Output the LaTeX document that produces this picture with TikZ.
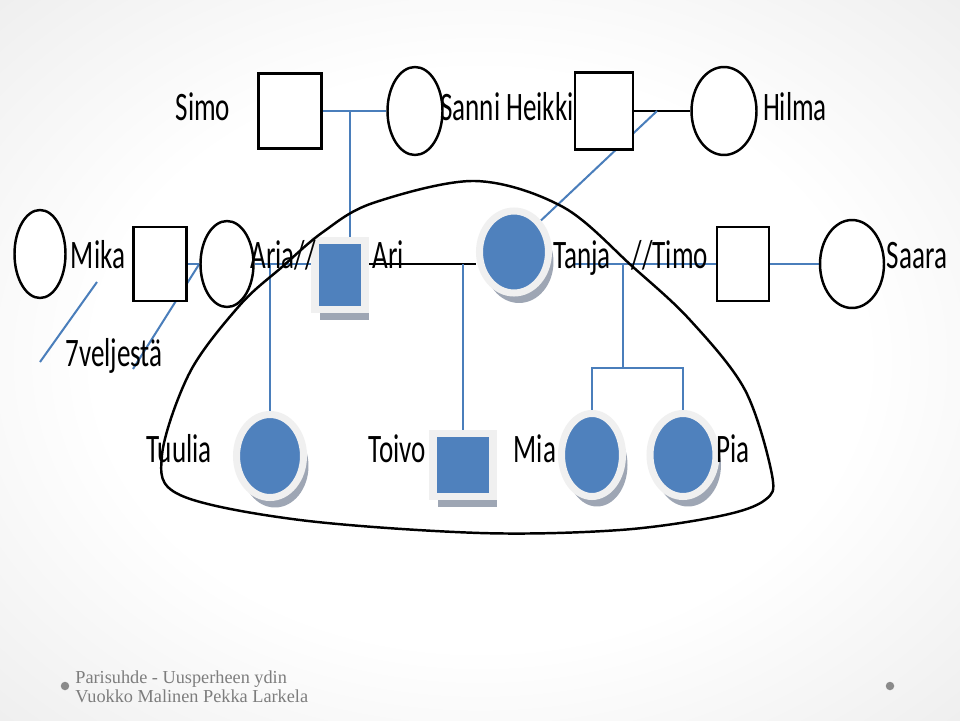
\documentclass[tikz,border=0pt]{standalone}
\usepackage{fontspec}
\setmainfont{Carlito}
\newfontfamily\namefont[FakeStretch=0.67]{Carlito}
\newfontfamily\footfont{Liberation Serif}
\usetikzlibrary{shapes.geometric,shadows,backgrounds}

\definecolor{pblue}{RGB}{79,129,189}
\definecolor{lblue}{RGB}{74,126,187}
\definecolor{rim}{RGB}{240,240,240}
\definecolor{shadowc}{RGB}{158,166,180}
\definecolor{footc}{RGB}{125,125,125}
\pgfdeclareradialshading{vignette}{\pgfpoint{0bp}{0bp}}{color(0bp)=(white); color(20bp)=(white); color(42bp)=(black!9); color(58bp)=(black!18); color(72bp)=(black!25)}

\begin{document}
\begin{tikzpicture}[
    x=0.02cm, y=-0.02cm,
    male/.style={rectangle, draw, line width=1.4pt, fill=white, inner sep=0pt, minimum width=1.1cm, minimum height=1.5cm},
    female/.style={ellipse, draw, line width=1.4pt, fill=white, inner sep=0pt, minimum width=1.1cm, minimum height=1.76cm},
    malefill/.style={rectangle, draw=rim, line width=4.2pt, fill=pblue, inner sep=0pt,
        drop shadow={fill=shadowc, opacity=1, shadow xshift=0.09cm, shadow yshift=-0.22cm}},
    femalefill/.style={ellipse, draw=rim, line width=4pt, fill=pblue, inner sep=0pt, minimum width=1.34cm, minimum height=1.66cm,
        drop shadow={fill=shadowc, opacity=1, shadow xshift=0.1cm, shadow yshift=-0.2cm}},
    pname/.style={anchor=base, inner sep=0pt, font=\namefont\fontsize{23}{26}\selectfont},
    foot/.style={anchor=base west, inner sep=0pt, text=footc, font=\footfont\fontsize{10.4}{12}\selectfont},
    dot/.style={circle, fill=footc!90, inner sep=0pt, minimum size=0.17cm},
    bline/.style={draw=lblue, line width=1.15pt},
    kline/.style={draw=black, line width=1.4pt},
    kloop/.style={draw=black, line width=1.4pt},
]

% Background
\begin{scope}[on background layer]
\shade[shading=vignette] (0,0) rectangle (960,720);
\end{scope}

% Grandparents
\node[male, minimum width=1.26cm] (simo) at (290,111) {};
\node[female] (sanni) at (415,111) {};
\node[male, minimum width=1.16cm, minimum height=1.54cm] (heikki) at (604,111) {};
\node[female, minimum width=1.3cm] (hilma) at (724,111) {};

% Parents
\node[female, minimum width=1.02cm] (mikac) at (40,254) {};
\node[male, minimum width=1.06cm, minimum height=1.48cm] (mikasq) at (160,264) {};
\node[female, minimum width=1.06cm, minimum height=1.72cm] (aria) at (227,264) {};
\node[malefill, minimum width=1.0cm, minimum height=1.38cm] (ari) at (340,275) {};
\node[femalefill, minimum width=1.38cm, minimum height=1.64cm] (tanja) at (514,252) {};
\node[male, minimum width=1.04cm, minimum height=1.48cm] (timo) at (743,264) {};
\node[female, minimum width=1.28cm] (saara) at (852,264) {};

% Children
\node[femalefill] (tuulia) at (270,456) {};
\node[malefill, minimum width=1.2cm, minimum height=1.26cm] (toivo) at (463,465) {};
\node[femalefill, minimum width=1.22cm] (mia) at (592,455) {};
\node[femalefill, minimum width=1.32cm] (pia) at (683,455) {};

% Names
\node[pname] (simol) at (203,120) {Simo};
\node[pname] (sannil) at (507,120) {Sanni Heikki};
\node[pname] (hilmal) at (795,120) {Hilma};
\node[pname] (mikal) at (98,268) {Mika};
\node[pname] (arial) at (283,268) {Aria//};
\node[pname] (aril) at (388,268) {Ari};
\node[pname] (tanjal) at (582,268) {Tanja};
\node[pname] (timol) at (670,268) {//Timo};
\node[pname] (saaral) at (917,268) {Saara};
\node[pname] (veljl) at (114,366) {7veljestä};
\node[pname] (tuulial) at (179,462) {Tuulia};
\node[pname] (toivol) at (397,462) {Toivo};
\node[pname] (mial) at (535,462) {Mia};
\node[pname] (pial) at (733,462) {Pia};

% Lines between symbols
\coordinate (sp) at (350,111);
\coordinate (hh) at (657,111);
\coordinate (tj) at (575,264);
\coordinate (tw) at (623,368);
\coordinate (v1) at (97,282);
\coordinate (v2) at (40,362);
\coordinate (v3) at (133,369);
\begin{scope}[on background layer]
\draw[bline] (simo) -- (sanni);
\draw[bline] (sp) -- (sp |- ari.north);
\draw[kline] (heikki) -- (hilma);
\draw[bline] (hh) -- (tanja.north east);
\draw[bline] (mikasq) -- (aria);
\draw[bline] (aria) -- (aria -| ari);
\draw[kline] (aria -| ari.east) -- (aria -| tanja.west);
\draw[bline] (aria -| tuulia) -- (tuulia.north);
\draw[bline] (aria -| toivo) -- (toivo.north);
\draw[bline] (tj) -- (timo);
\draw[bline] (timo) -- (saara);
\draw[bline] (tw |- timo) -- (tw);
\draw[bline] (mia.north) |- (tw) -| (pia.north);
\draw[bline] (v1) -- (v2);
\draw[bline] (aria.west) -- (v3);
\end{scope}

% Core family loop
\draw[kloop] plot[smooth cycle, tension=0.55] coordinates {
  (475,181) (373,203) (323,232) (282,267) (240,305) (190,372) (162,455)
  (180,495) (300,520) (480,533) (620,530) (720,516) (765,500) (772,475)
  (745,390) (690,320) (633,267) (563,207)};

% Footer
\node[dot] (dotl) at (65,686) {};
\node[dot] (dotr) at (890,686) {};
\node[foot] (foota) at (75,683) {Parisuhde - Uusperheen ydin};
\node[foot] (footb) at (75,702) {Vuokko Malinen Pekka Larkela};

\end{tikzpicture}
\end{document}
